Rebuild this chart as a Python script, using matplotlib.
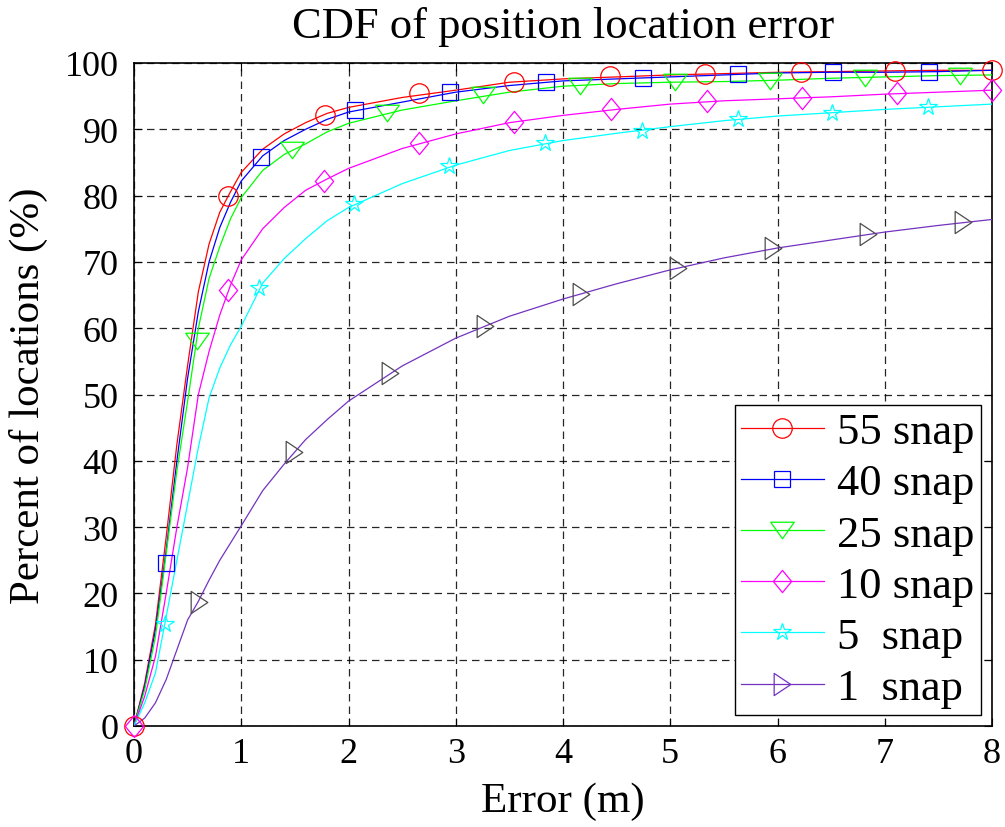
import matplotlib
matplotlib.use("Agg")
import matplotlib.pyplot as plt
from matplotlib.path import Path
from matplotlib.lines import Line2D

# error axis (m) shared by every curve
err = [0, 0.1, 0.2, 0.3, 0.4, 0.5, 0.6, 0.7, 0.8, 0.9, 1.0, 1.2, 1.4, 1.6, 1.8,
       2.0, 2.5, 3.0, 3.5, 4.0, 4.5, 5.0, 5.5, 6.0, 6.5, 7.0, 7.5, 8.0]

# percent of locations
cdf_55 = [0, 6.5, 15.3, 28.5, 42.5, 54.4, 65.5, 72.7, 77.5, 80.6, 83.5, 87.0, 89.3,
          91.0, 92.4, 93.3, 94.8, 95.9, 97.1, 97.6, 97.9, 98.2, 98.4, 98.6, 98.7,
          98.8, 98.9, 98.9]
cdf_40 = [0, 6.0, 14.5, 26.5, 40.0, 52.5, 62.5, 70.0, 75.2, 79.0, 82.2, 86.0, 88.3,
          90.0, 91.5, 92.6, 94.1, 95.6, 96.6, 97.3, 97.6, 97.9, 98.2, 98.5, 98.6,
          98.6, 98.7, 98.9]
cdf_25 = [0, 5.5, 13.5, 26.0, 38.5, 49.0, 60.0, 67.5, 72.3, 76.5, 79.7, 83.8, 86.2,
          87.8, 89.6, 90.9, 92.9, 94.3, 95.6, 96.5, 96.9, 97.1, 97.2, 97.4, 97.7,
          97.9, 98.1, 98.2]
cdf_10 = [0, 4.5, 10.5, 20.0, 30.0, 39.0, 50.0, 56.5, 62.0, 66.5, 70.3, 75.0, 78.2,
          80.8, 82.5, 84.1, 87.1, 89.3, 91.0, 92.1, 93.0, 93.8, 94.3, 94.6, 94.9,
          95.3, 95.6, 95.9]
cdf_5 = [0, 3.5, 8.0, 16.5, 25.0, 33.5, 42.0, 49.5, 54.0, 57.5, 60.3, 66.8, 70.5,
         73.5, 76.2, 78.2, 81.8, 84.6, 86.8, 88.3, 89.4, 90.4, 91.3, 92.0, 92.5,
         93.0, 93.4, 93.8]
cdf_1 = [0, 1.2, 3.5, 7.0, 11.5, 16.0, 18.8, 22.0, 25.0, 27.6, 30.2, 35.5, 39.5,
         43.2, 46.2, 49.0, 54.3, 58.5, 61.8, 64.4, 66.7, 68.8, 70.6, 72.1, 73.3,
         74.5, 75.5, 76.4]

# marker points on each curve
mk_55_x = [0, 0.877, 1.78, 2.66, 3.54, 4.44, 5.32, 6.22, 7.10, 8.0]
mk_55_y = [0, 80.0, 92.2, 95.5, 97.1, 98.0, 98.3, 98.6, 98.8, 98.9]
mk_40_x = [0.295, 1.18, 2.06, 2.95, 3.84, 4.75, 5.63, 6.52, 7.41]
mk_40_y = [24.6, 85.8, 92.9, 95.7, 97.1, 97.7, 98.3, 98.6, 98.6]
mk_25_x = [0.585, 1.476, 2.36, 3.25, 4.16, 5.04, 5.93, 6.82, 7.70]
mk_25_y = [58.1, 86.9, 92.5, 95.1, 96.6, 97.1, 97.3, 97.8, 98.1]
mk_10_x = [0, 0.88, 1.77, 2.66, 3.54, 4.45, 5.34, 6.23, 7.11, 8.0]
mk_10_y = [0, 65.8, 82.2, 87.9, 91.1, 93.0, 94.2, 94.7, 95.4, 95.9]
mk_5_x = [0.29, 1.17, 2.05, 2.94, 3.83, 4.74, 5.63, 6.51, 7.40]
mk_5_y = [15.4, 66.0, 78.7, 84.4, 87.9, 89.8, 91.6, 92.5, 93.3]
mk_1_x = [0.61, 1.495, 2.39, 3.27, 4.17, 5.07, 5.96, 6.84, 7.73]
mk_1_y = [18.7, 41.4, 53.2, 60.4, 65.2, 69.1, 72.1, 74.2, 76.0]

labels = ["55 snap", "40 snap", "25 snap", "10 snap", "5  snap", "1  snap"]

# matlab-ish marker shapes (wide triangles, tall diamond)
tri_down = Path([(-1, 0.7), (1, 0.7), (0, -0.7), (-1, 0.7)],
                [Path.MOVETO, Path.LINETO, Path.LINETO, Path.CLOSEPOLY])
tri_right = Path([(-0.75, 1), (0.75, 0), (-0.75, -1), (-0.75, 1)],
                 [Path.MOVETO, Path.LINETO, Path.LINETO, Path.CLOSEPOLY])
diamond = Path([(0, 1), (0.82, 0), (0, -1), (-0.82, 0), (0, 1)],
               [Path.MOVETO, Path.LINETO, Path.LINETO, Path.LINETO, Path.CLOSEPOLY])

purple = (0.45, 0.2, 0.75)
series = [
    (cdf_55, mk_55_x, mk_55_y, "red", "red", "o", 14),
    (cdf_40, mk_40_x, mk_40_y, "blue", "blue", "s", 11.5),
    (cdf_25, mk_25_x, mk_25_y, (0, 1, 0), (0, 1, 0), tri_down, 17),
    (cdf_10, mk_10_x, mk_10_y, (1, 0, 1), (1, 0, 1), diamond, 16),
    (cdf_5, mk_5_x, mk_5_y, (0, 1, 1), (0, 1, 1), "*", 13),
    (cdf_1, mk_1_x, mk_1_y, purple, (0.3, 0.3, 0.3), tri_right, 16),
]

plt.rcParams["font.family"] = ["Liberation Serif", "DejaVu Serif"]

fig = plt.figure(figsize=(10.05, 8.28), dpi=100)
ax = fig.add_axes([134 / 1005, 1 - 727 / 828, (992 - 134) / 1005, (727 - 64) / 828])

handles = []
for y, mx, my, col, mcol, mk, ms in series:
    ax.plot(err, y, color=col, lw=0.9, zorder=3)
    ax.plot(mx, my, ls="none", marker=mk, ms=ms, mfc="none", mec=mcol,
            mew=0.9, zorder=4, clip_on=False)
    handles.append(Line2D([], [], color=col, lw=0.9, marker=mk, ms=ms,
                          mfc="none", mec=col, mew=0.9))

ax.set_xlim(0, 8)
ax.set_ylim(0, 100)
ax.set_xticks(range(0, 9))
ax.set_yticks(range(0, 101, 10))
ax.grid(True, color="black", ls=(0, (6, 4)), lw=0.9, alpha=0.85)
ax.set_axisbelow(True)
ax.tick_params(direction="in", length=6, width=0.8, top=True, right=True,
               labelsize=26)
ax.tick_params(axis="y", pad=11)
ax.tick_params(axis="x", pad=8)
for s in ax.spines.values():
    s.set_linewidth(1.2)

ax.set_title("CDF of position location error", fontsize=32, pad=19)
ax.set_xlabel("Error (m)", fontsize=31, labelpad=8)
ax.set_ylabel("Percent of locations (%)", fontsize=31, labelpad=12)

leg = ax.legend(handles, labels, loc="lower right", fontsize=32,
                handlelength=1.85, handletextpad=0.3, labelspacing=0.25,
                borderpad=0.15, borderaxespad=0.25, fancybox=False,
                framealpha=1, edgecolor="black")
leg.get_frame().set_linewidth(1.0)

fig.savefig("out.png", dpi=100)
